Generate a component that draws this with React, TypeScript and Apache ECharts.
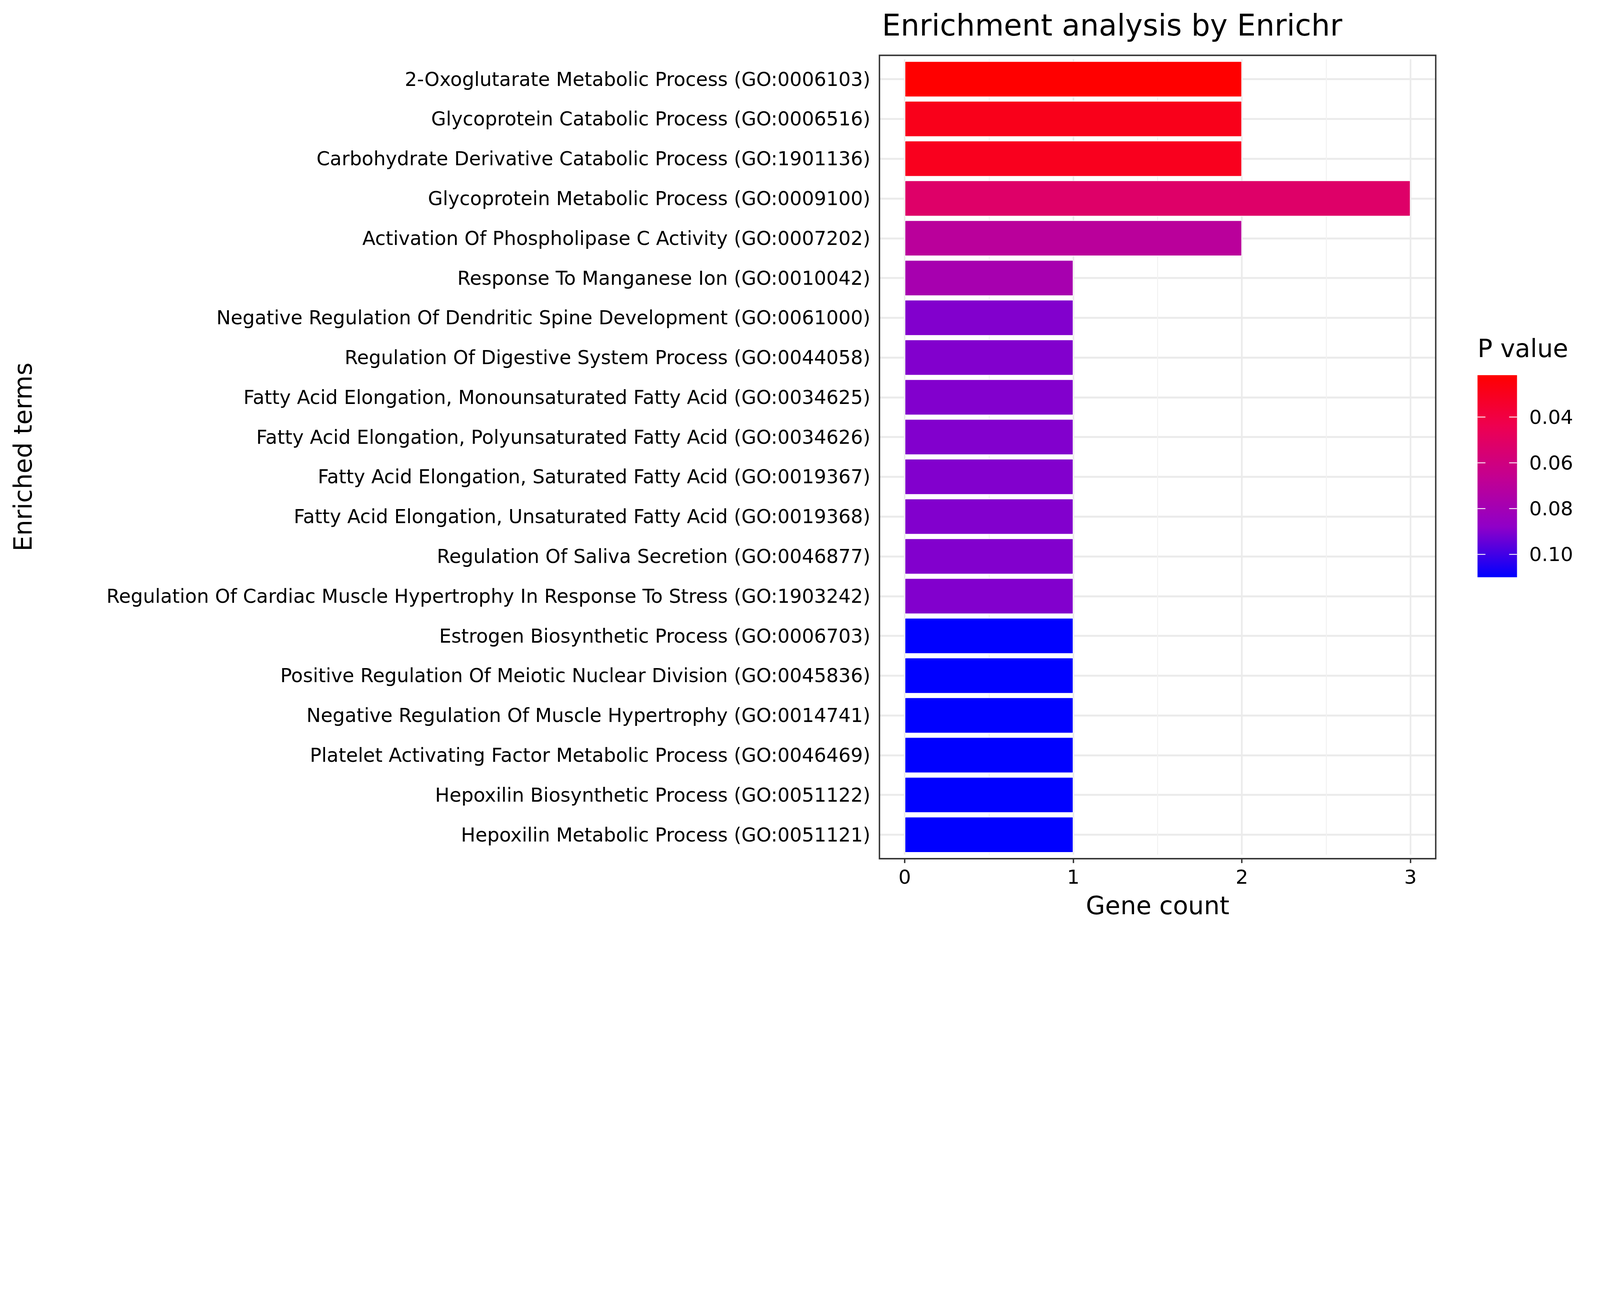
import React, { useEffect, useRef, useState } from "react";
import * as echarts from "echarts";

const terms = [
  "2-Oxoglutarate Metabolic Process (GO:0006103)",
  "Glycoprotein Catabolic Process (GO:0006516)",
  "Carbohydrate Derivative Catabolic Process (GO:1901136)",
  "Glycoprotein Metabolic Process (GO:0009100)",
  "Activation Of Phospholipase C Activity (GO:0007202)",
  "Response To Manganese Ion (GO:0010042)",
  "Negative Regulation Of Dendritic Spine Development (GO:0061000)",
  "Regulation Of Digestive System Process (GO:0044058)",
  "Fatty Acid Elongation, Monounsaturated Fatty Acid (GO:0034625)",
  "Fatty Acid Elongation, Polyunsaturated Fatty Acid (GO:0034626)",
  "Fatty Acid Elongation, Saturated Fatty Acid (GO:0019367)",
  "Fatty Acid Elongation, Unsaturated Fatty Acid (GO:0019368)",
  "Regulation Of Saliva Secretion (GO:0046877)",
  "Regulation Of Cardiac Muscle Hypertrophy In Response To Stress (GO:1903242)",
  "Estrogen Biosynthetic Process (GO:0006703)",
  "Positive Regulation Of Meiotic Nuclear Division (GO:0045836)",
  "Negative Regulation Of Muscle Hypertrophy (GO:0014741)",
  "Platelet Activating Factor Metabolic Process (GO:0046469)",
  "Hepoxilin Biosynthetic Process (GO:0051122)",
  "Hepoxilin Metabolic Process (GO:0051121)",
];
const geneCounts = [2, 2, 2, 3, 2, 1, 1, 1, 1, 1, 1, 1, 1, 1, 1, 1, 1, 1, 1, 1];
const pValues = [
  0.0217, 0.029, 0.030, 0.052, 0.070, 0.078, 0.090, 0.090, 0.090, 0.090,
  0.090, 0.090, 0.090, 0.090, 0.110, 0.110, 0.110, 0.110, 0.110, 0.110,
];
const xTicks = [0, 1, 2, 3];
const xMinorGrid = [0.5, 1.5, 2.5];
const legendTicks = [0.04, 0.06, 0.08, 0.1];
const colorStops = ["#FF0000", "#EE0050", "#C40090", "#9000C8", "#0000FF"];

const FONT = "DejaVu Sans";
const BASE_W = 5669;
const BASE_H = 3307;

export default function App() {
  const ref = useRef<HTMLDivElement>(null);
  const [size] = useState(() => {
    document.body.style.margin = "0";
    document.body.style.overflow = "hidden";
    const w = window.innerWidth || BASE_W;
    const h = window.innerHeight || BASE_H;
    const s = Math.min(w / BASE_W, h / BASE_H);
    return { s, w: BASE_W * s, h: BASE_H * s };
  });
  useEffect(() => {
    const s = size.s;
    const S = (v: number) => v * s;
    const chart = echarts.init(ref.current!, null, { renderer: "svg" });
    const pMin = Math.min(...pValues);
    const pMax = Math.max(...pValues);
    const lgX = 5235, lgY = 1329, lgW = 140, lgH = 716;
    const lgPos = (p: number) => lgY + ((p - pMin) / (pMax - pMin)) * lgH;
    const legendGraphics: any[] = [
      {
        type: "rect",
        shape: { x: S(lgX), y: S(lgY), width: S(lgW), height: S(lgH) },
        style: {
          fill: new echarts.graphic.LinearGradient(
            0, 0, 0, 1,
            colorStops.map((c, i) => ({ offset: i / (colorStops.length - 1), color: c }))
          ),
        },
      },
      {
        type: "text",
        style: { text: "P value", x: S(lgX), y: S(1190), fontSize: S(88), fontFamily: FONT, fill: "#000" },
      },
    ];
    legendTicks.forEach((t) => {
      const y = S(lgPos(t));
      legendGraphics.push(
        { type: "line", shape: { x1: S(lgX), y1: y, x2: S(lgX + lgW * 0.2), y2: y }, style: { stroke: "#fff", lineWidth: S(3) } },
        { type: "line", shape: { x1: S(lgX + lgW * 0.8), y1: y, x2: S(lgX + lgW), y2: y }, style: { stroke: "#fff", lineWidth: S(3) } },
        {
          type: "text",
          style: { text: t.toFixed(2), x: S(5418), y, verticalAlign: "middle", fontSize: S(70), fontFamily: FONT, fill: "#000" },
        }
      );
    });
    chart.setOption({
      animation: false,
      backgroundColor: "#fff",
      title: {
        text: "Enrichment analysis by Enrichr",
        left: S(3118),
        top: S(30),
        textStyle: { fontSize: S(105), fontWeight: "normal", fontFamily: FONT, color: "#000" },
      },
      grid: { left: S(3116), right: S(582), top: S(210), bottom: S(279) },
      visualMap: {
        show: false,
        type: "continuous",
        dimension: 2,
        seriesIndex: 1,
        min: pMin,
        max: pMax,
        inRange: { color: colorStops },
      },
      xAxis: {
        type: "value",
        min: -0.15,
        max: 3.15,
        offset: S(14),
        name: "Gene count",
        nameLocation: "middle",
        nameGap: S(122),
        nameTextStyle: { fontSize: S(88), fontFamily: FONT, color: "#000" },
        axisLine: { show: false },
        axisTick: { show: true, customValues: xTicks, length: S(16), lineStyle: { color: "#333", width: S(5) } },
        axisLabel: { customValues: xTicks, margin: S(30), fontSize: S(70), fontFamily: FONT, color: "#000" },
        splitLine: { show: false },
      },
      yAxis: {
        type: "category",
        data: terms,
        inverse: true,
        name: "Enriched terms",
        nameLocation: "middle",
        nameGap: S(2990),
        nameRotate: 90,
        nameTextStyle: { fontSize: S(88), fontFamily: FONT, color: "#000" },
        axisLine: { show: false },
        axisTick: { show: true, alignWithLabel: true, length: S(16), lineStyle: { color: "#333", width: S(5) } },
        axisLabel: { margin: S(32), fontSize: S(68), fontFamily: FONT, color: "#000" },
        splitLine: { show: false },
      },
      series: [
        {
          type: "line",
          data: [],
          z: 1,
          silent: true,
          markLine: {
            z: 1,
            symbol: "none",
            silent: true,
            label: { show: false },
            data: [
              ...terms.map((t) => ({ yAxis: t, lineStyle: { color: "#EBEBEB", width: S(7), type: "solid" } })),
              ...xTicks.map((v) => ({ xAxis: v, lineStyle: { color: "#EBEBEB", width: S(6), type: "solid" } })),
              ...xMinorGrid.map((v) => ({ xAxis: v, lineStyle: { color: "#F2F2F2", width: S(3.5), type: "solid" } })),
            ],
          },
        },
        {
          type: "bar",
          z: 10,
          barWidth: "90%",
          data: terms.map((t, i) => [geneCounts[i], t, pValues[i]]),
          encode: { x: 0, y: 1 },
          itemStyle: { borderColor: "#fff", borderWidth: S(2) },
        },
      ],
      graphic: [
        {
          type: "rect",
          shape: { x: S(3116), y: S(196), width: S(5087 - 3116), height: S(3042 - 196) },
          style: { fill: "none", stroke: "#333", lineWidth: S(5) },
          z: 100,
          silent: true,
        },
        ...legendGraphics,
      ],
    });
    return () => chart.dispose();
  }, []);
  return <div ref={ref} style={{ width: size.w, height: size.h }} />;
}
